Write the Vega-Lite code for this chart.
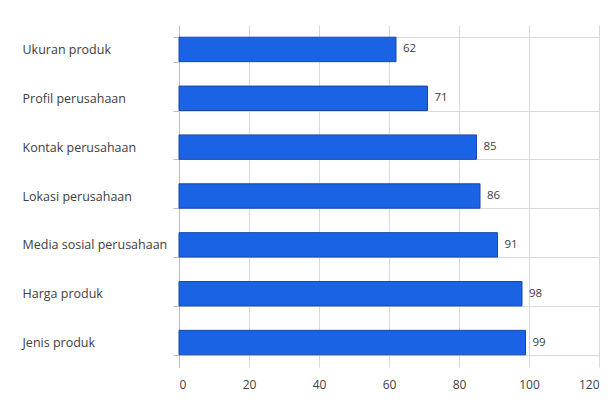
{
  "$schema": "https://vega.github.io/schema/vega-lite/v6.json",
  "width": 420,
  "height": 342,
  "autosize": {"type": "none"},
  "padding": {"left": 179, "top": 25, "right": 17, "bottom": 38},
  "background": "white",
  "config": {"view": {"stroke": null}, "font": "Open Sans"},
  "data": {
    "values": [
      {"kategori": "Ukuran produk", "nilai": 62},
      {"kategori": "Profil perusahaan", "nilai": 71},
      {"kategori": "Kontak perusahaan", "nilai": 85},
      {"kategori": "Lokasi perusahaan", "nilai": 86},
      {"kategori": "Media sosial perusahaan", "nilai": 91},
      {"kategori": "Harga produk", "nilai": 98},
      {"kategori": "Jenis produk", "nilai": 99}
    ]
  },
  "encoding": {
    "y": {
      "field": "kategori",
      "type": "nominal",
      "sort": null,
      "scale": {"paddingInner": 0.5, "paddingOuter": 0.25},
      "axis": {
        "title": null,
        "tickBand": "extent",
        "grid": true,
        "gridColor": "#d9d9d9",
        "gridOpacity": {"condition": {"test": "datum.index === 0", "value": 0}, "value": 1},
        "tickColor": "#bfbfbf",
        "tickSize": 6,
        "domainColor": "#bfbfbf",
        "labelAlign": "left",
        "labelPadding": 151,
        "labelFontSize": 12.5,
        "labelColor": "#404040",
        "labelLimit": 300
      }
    },
    "x": {
      "field": "nilai",
      "type": "quantitative",
      "scale": {"domain": [0, 120], "nice": false},
      "axis": {
        "title": null,
        "values": [0, 20, 40, 60, 80, 100, 120],
        "grid": true,
        "gridColor": "#d9d9d9",
        "domain": false,
        "ticks": false,
        "labelPadding": 12,
        "labelFontSize": 12,
        "labelColor": "#404040"
      }
    }
  },
  "layer": [
    {
      "mark": {"type": "bar", "color": "#1b63e5", "stroke": "#1a47a8", "strokeWidth": 1}
    },
    {
      "mark": {"type": "text", "align": "left", "dx": 7, "fontSize": 11.5, "color": "#404040"},
      "encoding": {"text": {"field": "nilai", "type": "quantitative"}}
    }
  ]
}
